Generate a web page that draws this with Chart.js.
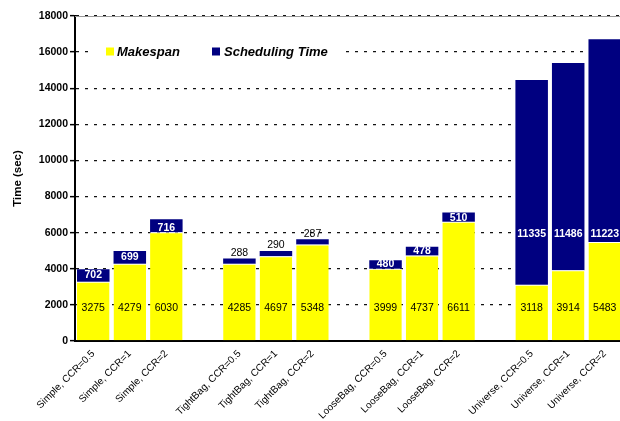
<!DOCTYPE html>
<html><head><meta charset="utf-8">
<script src="https://cdn.jsdelivr.net/npm/chart.js@4/dist/chart.umd.min.js"></script>
<style>html,body{margin:0;padding:0;background:#fff;overflow:hidden;width:620px;height:421px}canvas{display:block}</style>
</head><body>
<canvas id="c" width="626" height="421"></canvas>
<script>
const categories = ["Simple, CCR=0.5","Simple, CCR=1","Simple, CCR=2","",
  "TightBag, CCR=0.5","TightBag, CCR=1","TightBag, CCR=2","",
  "LooseBag, CCR=0.5","LooseBag, CCR=1","LooseBag, CCR=2","",
  "Universe, CCR=0.5","Universe, CCR=1","Universe, CCR=2"];
const makespan = [3275,4279,6030,null,4285,4697,5348,null,3999,4737,6611,null,3118,3914,5483];
const schedulingTime = [702,699,716,null,288,290,287,null,480,478,510,null,11335,11486,11223];
const yTicks = [0,2000,4000,6000,8000,10000,12000,14000,16000,18000];
const seriesNames = ["Makespan","Scheduling Time"];
const seriesColors = ["#FFFF00","#000080"];
const yTitle = "Time (sec)";

const FONT = '"Liberation Sans", Arial, sans-serif';

const labelsPlugin = {
  id: 'valueLabels',
  afterDatasetsDraw(chart) {
    const ctx = chart.ctx, y = chart.scales.y;
    ctx.save();
    ctx.textAlign = 'center';
    ctx.textBaseline = 'middle';
    chart.getDatasetMeta(0).data.forEach((bar, i) => {
      const v = makespan[i];
      if (v == null) return;
      ctx.font = '10.5px ' + FONT;
      ctx.fillStyle = '#000';
      ctx.fillText(String(v), bar.x, y.getPixelForValue(1800));
    });
    chart.getDatasetMeta(1).data.forEach((bar, i) => {
      const v = schedulingTime[i];
      if (v == null) return;
      const top = bar.y, base = bar.base, h = base - top;
      if (h < 8) {
        ctx.font = '10.5px ' + FONT;
        ctx.fillStyle = '#000';
        ctx.fillText(String(v), bar.x, top - 5.5);
      } else {
        ctx.font = 'bold 10.5px ' + FONT;
        ctx.fillStyle = '#fff';
        const c = (top + base) / 2;
        const ly = Math.min(Math.max(c, y.getPixelForValue(5900)), base - 4);
        ctx.fillText(String(v), bar.x, ly);
      }
    });
    ctx.restore();
  }
};

const framePlugin = {
  id: 'frame',
  beforeDatasetsDraw(chart) {
    const {ctx, chartArea} = chart;
    ctx.save();
    ctx.strokeStyle = '#999';
    ctx.lineWidth = 1;
    ctx.beginPath();
    ctx.moveTo(chartArea.left, chartArea.top + 0.5);
    ctx.lineTo(chartArea.right, chartArea.top + 0.5);
    ctx.stroke();
    ctx.restore();
  }
};

const legendPlugin = {
  id: 'insideLegend',
  afterDraw(chart) {
    const {ctx, chartArea} = chart;
    const L = chartArea.left;
    ctx.save();
    ctx.fillStyle = '#fff';
    ctx.fillRect(L + 15, 44, 252, 16);
    ctx.font = 'italic bold 13px ' + FONT;
    ctx.textBaseline = 'middle';
    ctx.textAlign = 'left';
    const items = [[L + 31, L + 42], [L + 137, L + 149]];
    seriesNames.forEach((name, i) => {
      ctx.fillStyle = seriesColors[i];
      ctx.fillRect(items[i][0], 47.5, 8, 8);
      ctx.fillStyle = '#000';
      ctx.fillText(name, items[i][1], 52);
    });
    ctx.restore();
  }
};

new Chart(document.getElementById('c'), {
  type: 'bar',
  data: {
    labels: categories,
    datasets: [
      { label: seriesNames[0], data: makespan, backgroundColor: seriesColors[0],
        borderColor: '#fff', borderWidth: {top: 1, left: 0, right: 0, bottom: 0}, borderSkipped: false,
        barPercentage: 0.89, categoryPercentage: 1.0 },
      { label: seriesNames[1], data: schedulingTime, backgroundColor: seriesColors[1],
        borderWidth: 0, barPercentage: 0.89, categoryPercentage: 1.0 }
    ]
  },
  options: {
    responsive: false,
    animation: false,
    devicePixelRatio: 1,
    layout: { padding: { top: 16, right: 3, left: 0, bottom: 0 } },
    plugins: { legend: { display: false }, tooltip: { enabled: false } },
    scales: {
      x: {
        stacked: true,
        offset: true,
        grid: { display: false, drawTicks: false },
        border: { display: true, color: '#000', width: 2 },
        ticks: { autoSkip: false, maxRotation: 45, minRotation: 45, padding: 7,
          font: { family: FONT, size: 10 }, color: '#000' },
        afterFit(s) { s.height = 80; }
      },
      y: {
        stacked: true,
        min: 0, max: 18000,
        afterBuildTicks(s) { s.ticks = yTicks.map(v => ({ value: v })); },
        ticks: { padding: 2, font: { family: FONT, size: 10.5, weight: 'bold' }, color: '#000',
          callback: (v) => String(v) },
        grid: { color: '#111', lineWidth: 1.3, tickLength: 5, tickColor: '#000', tickWidth: 1.5, tickBorderDash: [] },
        border: { display: true, color: '#000', width: 2, dash: [3, 6] },
        title: { display: true, text: yTitle, color: '#000',
          font: { family: FONT, size: 11.5, weight: 'bold' }, padding: { top: 11, bottom: 0 } },
        afterFit(s) { s.width = 75; }
      }
    }
  },
  plugins: [framePlugin, labelsPlugin, legendPlugin]
});
</script>
</body></html>
